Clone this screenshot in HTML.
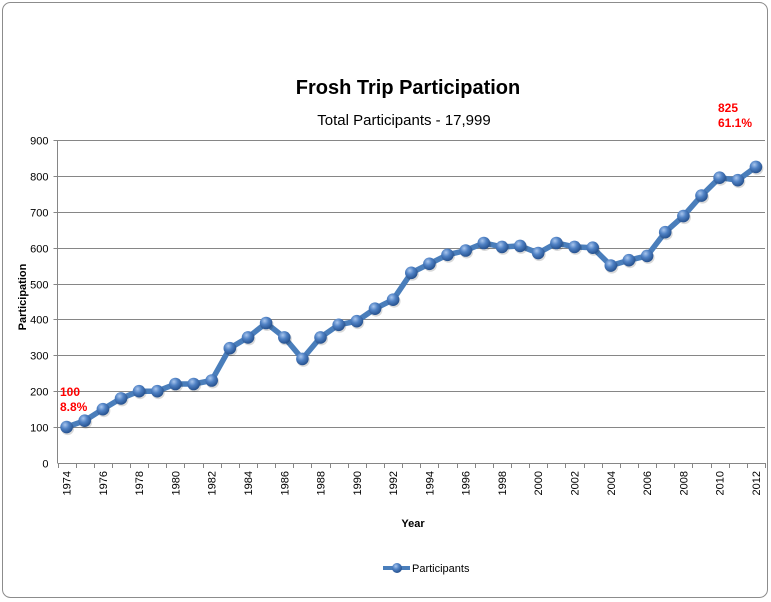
<!DOCTYPE html>
<html><head><meta charset="utf-8"><style>
html,body{margin:0;padding:0;background:#fff;}
svg{display:block;font-family:"Liberation Sans",sans-serif;}
</style></head><body>
<svg id="s" width="771" height="602" xmlns="http://www.w3.org/2000/svg">
<defs>
<radialGradient id="g" cx="0.38" cy="0.32" r="0.7">
<stop offset="0" stop-color="#a9c6ee"/><stop offset="0.45" stop-color="#4f81c4"/><stop offset="1" stop-color="#244f8c"/>
</radialGradient>
</defs>
<rect x="2.5" y="2.5" width="765" height="595" rx="8" fill="#fff" stroke="#8c8c8c" stroke-width="1"/>
<text x="408" y="94" text-anchor="middle" font-size="20" font-weight="bold" fill="#000">Frosh Trip Participation</text>
<text x="404" y="125" text-anchor="middle" font-size="15" fill="#000">Total Participants - 17,999</text>
<g id="grid"></g>
<g id="data"></g>
<text x="60" y="396" font-size="12" font-weight="bold" fill="#ff0000">100</text>
<text x="60" y="411" font-size="12" font-weight="bold" fill="#ff0000">8.8%</text>
<text x="718" y="112" font-size="12" font-weight="bold" fill="#ff0000">825</text>
<text x="718" y="127" font-size="12" font-weight="bold" fill="#ff0000">61.1%</text>
<text x="22" y="301" font-size="11" font-weight="bold" fill="#000" text-anchor="middle" transform="rotate(-90 22 297)">Participation</text>
<text x="413" y="527" font-size="11" font-weight="bold" fill="#000" text-anchor="middle">Year</text>
<line x1="383" y1="568" x2="410" y2="568" stroke="#4a7ebb" stroke-width="4"/>
<circle cx="397" cy="568" r="5" fill="url(#g)"/>
<text x="412" y="572" font-size="11" fill="#000">Participants</text>
</svg>
<script>
var NS="http://www.w3.org/2000/svg";
function el(t,a,p){var e=document.createElementNS(NS,t);for(var k in a)e.setAttribute(k,a[k]);if(p)p.appendChild(e);return e;}
var grid=document.getElementById('grid'),data=document.getElementById('data');
var x0=57.5,x1=765,y0=463,y900=140;
function Y(v){return y0-(y0-y900)*v/900;}
for(var v=0;v<=900;v+=100){
 var y=Math.round(Y(v))+0.5;
 el('line',{x1:v==0?x0:x0-4,y1:y,x2:x1,y2:y,stroke:'#868686','stroke-width':1},grid);
 var t=el('text',{x:x0-9,y:y+4,'font-size':11,'text-anchor':'end',fill:'#000'},grid);t.textContent=v;
}
el('line',{x1:x0,y1:y900,x2:x0,y2:y0,stroke:'#868686'},grid);
var d=[100,118,150,180,200,200,220,220,230,320,350,390,350,290,350,385,395,430,455,530,555,580,592,613,602,605,585,613,602,600,550,565,577,643,688,745,795,788,825];
var n=d.length,w=(x1-x0)/n;
for(var i=0;i<=n;i++){var x=Math.round(x0+w*i)+0.5;el('line',{x1:x,y1:y0,x2:x,y2:y0+5,stroke:'#868686'},grid);}
for(var i=0;i<n;i+=2){var cx=x0+w*(i+0.5);var t=el('text',{x:0,y:0,'font-size':11,'text-anchor':'end',fill:'#000',transform:'translate('+(cx+4)+','+(y0+8)+') rotate(-90)'},grid);t.textContent=1974+i;}
var pts=[];for(var i=0;i<n;i++)pts.push((x0+w*(i+0.5)).toFixed(1)+','+Y(d[i]).toFixed(1));
el('polyline',{points:pts.join(' '),fill:'none',stroke:'#4a7ebb','stroke-width':5.5,'stroke-linejoin':'round'},data);
for(var i=0;i<n;i++){var p=pts[i].split(',');el('circle',{cx:+p[0]+1,cy:+p[1]+1.5,r:6.5,fill:'rgba(0,0,0,0.15)'},data);el('circle',{cx:p[0],cy:p[1],r:6.3,fill:'url(#g)'},data);}
</script>
</body></html>
